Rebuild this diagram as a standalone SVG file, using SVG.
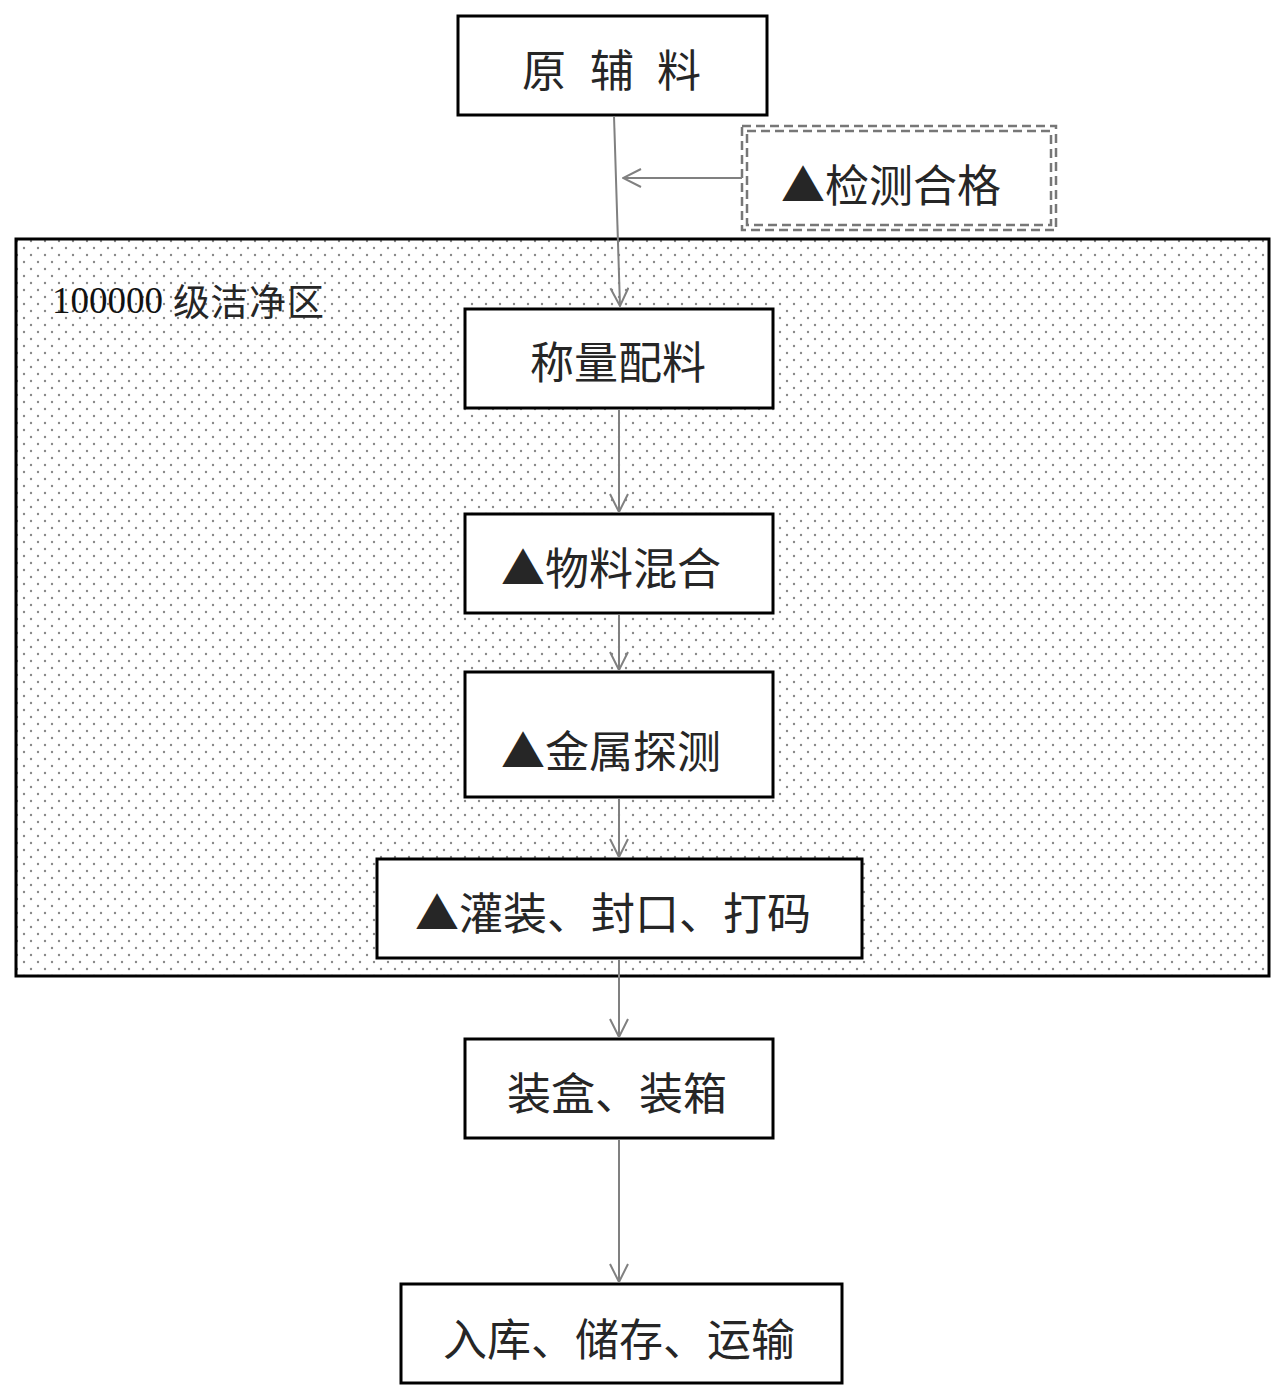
<svg xmlns="http://www.w3.org/2000/svg" width="1283" height="1400" viewBox="0 0 1283 1400">
<style>
.box{fill:#fff;stroke:#000;stroke-width:3}
.t{font-family:"Noto Sans CJK SC","Noto Sans",sans-serif;font-size:44px;fill:#262626;text-anchor:middle;dominant-baseline:central}
.c{fill:none;stroke:#808080;stroke-width:2}
.dash{fill:none;stroke:#777;stroke-width:2.5;stroke-dasharray:9 5}
</style>
<defs>
<pattern id="dots" width="14" height="14" patternUnits="userSpaceOnUse">
<circle cx="3" cy="3" r="1.2" fill="#888"/>
<circle cx="10" cy="10" r="1.2" fill="#888"/>
</pattern>
<marker id="ah" viewBox="0 0 20 20" refX="19" refY="10" markerWidth="20" markerHeight="20" markerUnits="userSpaceOnUse" orient="auto">
<path d="M1,1 L19,10 L1,19" fill="none" stroke="#808080" stroke-width="2"/>
</marker>
</defs>
<rect width="1283" height="1400" fill="#fff"/>
<g id="zone">
<rect x="16" y="239" width="1253" height="737" fill="url(#dots)" stroke="#000" stroke-width="3"/>
<text x="52" y="300" font-family="Liberation Serif,serif" font-size="37" fill="#111" dominant-baseline="central">100000<tspan font-family="Noto Sans CJK SC,sans-serif" font-size="37" fill="#262626" dx="10" letter-spacing="1">级洁净区</tspan></text>
</g>
<g id="n1"><rect class="box" x="458" y="16" width="309" height="99"/><text class="t" y="68"><tspan x="544">原</tspan><tspan x="612">辅</tspan><tspan x="679">料</tspan></text></g>
<g id="check">
<rect class="dash" x="742" y="126" width="314" height="104"/>
<rect class="dash" x="747" y="131" width="304" height="94"/>
<text class="t" x="891" y="183">▲检测合格</text>
</g>
<g id="n2"><rect class="box" x="465" y="309" width="308" height="99"/><text class="t" x="618" y="360">称量配料</text></g>
<g id="n3"><rect class="box" x="465" y="514" width="308" height="99"/><text class="t" x="611" y="566">▲物料混合</text></g>
<g id="n4"><rect class="box" x="465" y="672" width="308" height="125"/><text class="t" x="611" y="749">▲金属探测</text></g>
<g id="n5"><rect class="box" x="377" y="859" width="485" height="99"/><text class="t" x="613" y="911">▲灌装、封口、打码</text></g>
<g id="n6"><rect class="box" x="465" y="1039" width="308" height="99"/><text class="t" x="617" y="1091">装盒、装箱</text></g>
<g id="n7"><rect class="box" x="401" y="1284" width="441" height="99"/><text class="t" x="619" y="1337">入库、储存、运输</text></g>
<g id="connectors">
<path class="c" d="M614,116 L620,306" marker-end="url(#ah)"/>
<path class="c" d="M742,178 L623,178" marker-end="url(#ah)"/>
<path class="c" d="M619,409 L619,512" marker-end="url(#ah)"/>
<path class="c" d="M619,614 L619,670" marker-end="url(#ah)"/>
<path class="c" d="M619,798 L619,857" marker-end="url(#ah)"/>
<path class="c" d="M619,959 L619,1037" marker-end="url(#ah)"/>
<path class="c" d="M619,1139 L619,1282" marker-end="url(#ah)"/>
</g>
</svg>
